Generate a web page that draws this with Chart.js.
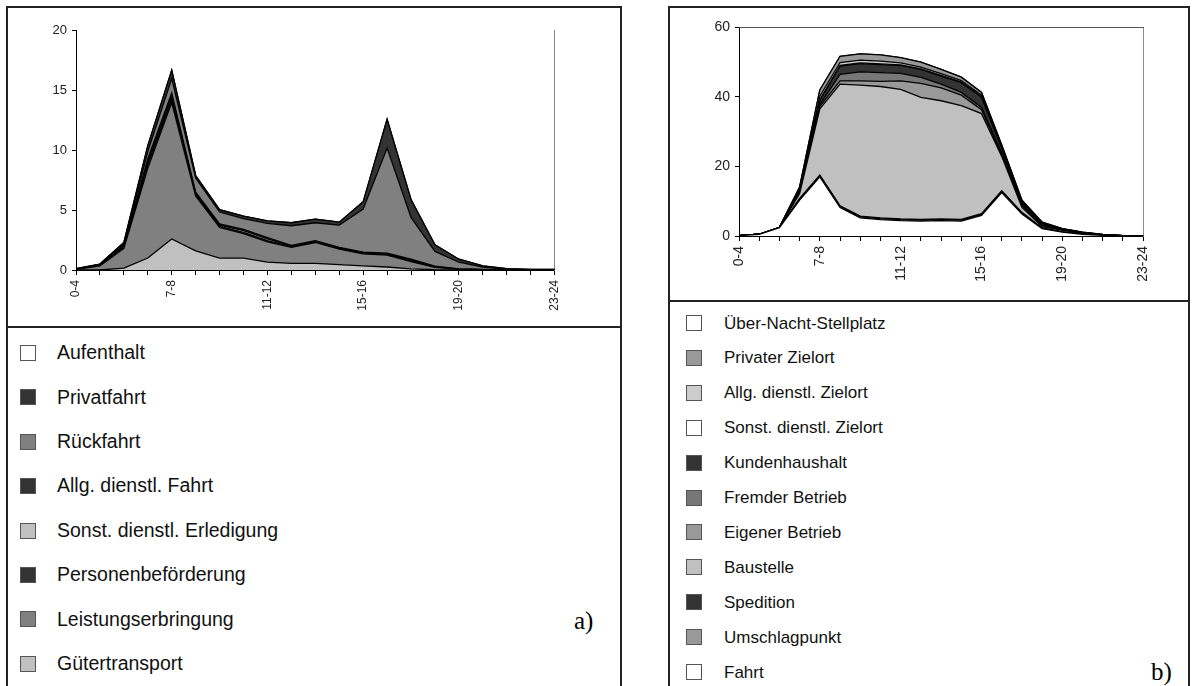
<!DOCTYPE html>
<html>
<head>
<meta charset="utf-8">
<script src="https://cdn.jsdelivr.net/npm/chart.js@4.4.0/dist/chart.umd.min.js"></script>
<style>
  body { margin: 0; width: 1196px; height: 686px; overflow: hidden; background: #fff; position: relative;
         font-family: "Liberation Sans", Arial, sans-serif; }
  .panel { position: absolute; border: 2px solid #222; border-bottom: none; }
  .divider { position: absolute; height: 2px; background: #222; }
  .wrap { position: absolute; }
  .box { position: absolute; width: 14px; height: 14px; border: 1px solid #555; }
  .lbl { position: absolute; color: #111; white-space: nowrap; line-height: 1; }
  .tag { position: absolute; font-family: "Liberation Serif", "Times New Roman", serif; font-size: 25px; line-height: 1; color: #000; }
</style>
</head>
<body>
<div class="panel" style="left:6px;top:6px;width:612px;height:700px"></div>
<div class="divider" style="left:6px;top:326px;width:616px"></div>
<div class="panel" style="left:668px;top:6px;width:518px;height:700px"></div>
<div class="divider" style="left:668px;top:300px;width:522px"></div>

<div class="wrap" style="left:36px;top:18px"><canvas id="chartA" width="538" height="312"></canvas></div>
<div class="wrap" style="left:699px;top:14px"><canvas id="chartB" width="466" height="282"></canvas></div>

<div id="legendA"></div>
<div id="legendB"></div>
<div class="tag" style="left:574px;top:608px">a)</div>
<div class="tag" style="left:1151px;top:659px">b)</div>

<script>
/* ---------- DATA ---------- */
const hours = ['0-4', '4-5', '5-6', '6-7', '7-8', '8-9', '9-10', '10-11', '11-12', '12-13', '13-14',
  '14-15', '15-16', '16-17', '17-18', '18-19', '19-20', '20-21', '21-22', '22-23', '23-24'];

// a) trip purposes (stack bottom first)
const guetertransport     = [0, 0, 0.15, 1.0, 2.6, 1.6, 1.0, 1.0, 0.65, 0.55, 0.55, 0.45, 0.35, 0.25, 0.1, 0.02, 0, 0, 0, 0, 0];
const leistungserbringung = [0.05, 0.35, 1.65, 7.5, 11.4, 4.6, 2.55, 2.05, 1.7, 1.35, 1.75, 1.3, 1.0, 1.0, 0.6, 0.2, 0.05, 0.02, 0.01, 0, 0];
const personenbefoerderung = [0, 0, 0.1, 0.3, 0.3, 0.1, 0.1, 0.1, 0.1, 0.05, 0.05, 0.05, 0.05, 0.05, 0.05, 0.03, 0.02, 0.01, 0, 0, 0];
const sonstErledigung     = [0, 0, 0.05, 0.2, 0.2, 0.1, 0.1, 0.15, 0.15, 0.05, 0.05, 0.05, 0.05, 0.05, 0.05, 0.02, 0.01, 0, 0, 0, 0];
const allgFahrt           = [0, 0.05, 0.1, 0.3, 0.3, 0.1, 0.1, 0.1, 0.1, 0.05, 0.05, 0.05, 0.05, 0.05, 0.1, 0.05, 0.02, 0.01, 0, 0, 0];
const rueckfahrt          = [0.02, 0.05, 0.1, 0.6, 1.2, 1.2, 1.0, 0.9, 1.2, 1.65, 1.5, 1.85, 3.6, 8.8, 3.5, 1.23, 0.55, 0.2, 0.05, 0.02, 0.02];
const privatfahrt         = [0.05, 0.05, 0.15, 0.5, 0.7, 0.2, 0.2, 0.2, 0.2, 0.25, 0.3, 0.25, 0.6, 2.4, 1.5, 0.55, 0.25, 0.1, 0.05, 0.03, 0.03];
const aufenthalt          = [0, 0, 0, 0, 0, 0, 0, 0, 0, 0, 0, 0, 0, 0, 0, 0, 0, 0, 0, 0, 0];

// b) locations (stack bottom first)
const fahrt          = [0.1, 0.5, 2.4, 10.3, 17.0, 8.2, 5.2, 4.7, 4.4, 4.25, 4.4, 4.3, 5.9, 12.5, 6.3, 2.1, 1.1, 0.5, 0.2, 0.05, 0.02];
const umschlagpunkt  = [0, 0, 0, 0.3, 0.3, 0.3, 0.3, 0.3, 0.3, 0.3, 0.3, 0.3, 0.3, 0.3, 0.3, 0.1, 0.05, 0.02, 0.01, 0, 0];
const spedition      = [0, 0, 0, 0.2, 0.2, 0.2, 0.2, 0.2, 0.2, 0.2, 0.2, 0.2, 0.2, 0.2, 0.2, 0.1, 0.05, 0.02, 0.01, 0, 0];
const baustelle      = [0, 0, 0, 1.4, 19.1, 35.0, 37.7, 37.8, 37.3, 35.15, 34.0, 32.7, 28.8, 9.9, 1.4, 0.4, 0.4, 0.26, 0.08, 0.02, 0];
const eigenerBetrieb = [0, 0, 0, 0.4, 0.7, 0.9, 1.2, 1.5, 2.4, 4.0, 3.7, 3.0, 1.1, 0.5, 0.5, 0.3, 0.1, 0.05, 0.03, 0, 0];
const fremderBetrieb = [0, 0, 0, 0.4, 0.5, 1.9, 2.6, 2.5, 2.2, 1.7, 1.1, 0.8, 0.7, 0.4, 0.3, 0.2, 0.1, 0.05, 0.02, 0, 0];
const kundenhaushalt = [0, 0, 0, 0.5, 1.2, 2.4, 2.4, 2.3, 2.2, 2.3, 2.3, 2.8, 2.9, 1.4, 0.6, 0.4, 0.15, 0.1, 0.03, 0, 0];
const sonstZielort   = [0, 0, 0, 0.1, 0.2, 0.2, 0.2, 0.2, 0.2, 0.2, 0.2, 0.2, 0.2, 0.2, 0.1, 0.05, 0.02, 0, 0, 0, 0];
const allgZielort    = [0, 0, 0, 0.2, 1.0, 0.8, 0.8, 0.8, 0.6, 0.5, 0.5, 0.4, 0.4, 0.3, 0.2, 0.15, 0.08, 0.05, 0.02, 0, 0];
const privaterZielort = [0, 0, 0.1, 0.3, 1.8, 1.8, 1.8, 1.8, 1.5, 1.4, 1.2, 1.0, 0.8, 0.5, 0.4, 0.2, 0.05, 0.05, 0.03, 0.02, 0.01];
const ueberNacht     = [0, 0, 0, 0, 0, 0, 0, 0, 0, 0, 0, 0, 0, 0, 0, 0, 0, 0, 0, 0, 0];

const ticksA = [0, 5, 10, 15, 20];
const ticksB = [0, 20, 40, 60];

/* ---------- COLOURS ---------- */
const WHITE = '#ffffff', DARK = '#333333', MID = '#808080', MID2 = '#999999', GREY = '#777777', LIGHT = '#c0c0c0', LIGHT2 = '#cccccc';

/* ---------- HELPERS ---------- */
function area(label, data, color, first) {
  return {
    label, data,
    backgroundColor: color,
    borderColor: '#000',
    borderWidth: 1.3,
    pointRadius: 0,
    tension: 0,
    fill: first ? 'origin' : '-1'
  };
}

function chartOptions(maxY, tickVals, xFont, yFont, withTop) {
  const scales = {
    x: {
      type: 'category',
      offset: false,
      border: { display: true, color: '#000', width: 1 },
      grid: { display: true, drawOnChartArea: false, drawTicks: true, tickLength: 5, color: '#000' },
      ticks: {
        autoSkip: false, maxRotation: 90, minRotation: 90, padding: 5,
        color: '#222', font: { family: 'Liberation Sans', size: xFont },
        callback: function (val, idx) { return idx % 4 === 0 ? this.getLabelForValue(val) : ''; }
      },
      afterFit: s => { s.height = 60; }
    },
    y: {
      stacked: true, min: 0, max: maxY,
      afterBuildTicks: s => { s.ticks = tickVals.map(v => ({ value: v })); },
      border: { display: true, color: '#000', width: 1 },
      grid: { display: true, drawOnChartArea: false, drawTicks: true, tickLength: 4, color: '#000' },
      ticks: { padding: 5, color: '#222', font: { family: 'Liberation Sans', size: yFont } },
      afterFit: s => { s.width = 40; }
    },
    y2: {
      position: 'right',
      border: { display: true, color: '#8a8a8a', width: 1 },
      grid: { display: false },
      ticks: { display: false },
      afterFit: s => { s.width = 0; }
    }
  };
  if (withTop) {
    scales.x2 = {
      type: 'category', position: 'top',
      border: { display: true, color: '#555', width: 1 },
      grid: { display: false },
      ticks: { display: false },
      afterFit: s => { s.height = 0; }
    };
  }
  return {
    responsive: false,
    animation: false,
    events: [],
    layout: { padding: { top: 10, right: 10, left: 0, bottom: 0 } },
    plugins: { legend: { display: false }, tooltip: { enabled: false } },
    scales
  };
}

function buildLegend(chart, holder, opts) {
  const items = chart.data.datasets.slice().reverse();
  items.forEach((ds, k) => {
    const cy = opts.y0 + k * opts.step;
    const box = document.createElement('div');
    box.className = 'box';
    box.style.left = opts.boxX + 'px';
    box.style.top = (cy - 8) + 'px';
    box.style.background = ds.backgroundColor;
    holder.appendChild(box);
    const t = document.createElement('div');
    t.className = 'lbl';
    t.textContent = ds.label;
    t.style.left = opts.textX + 'px';
    t.style.top = (cy - opts.font * 0.5) + 'px';
    t.style.fontSize = opts.font + 'px';
    holder.appendChild(t);
  });
}

/* ---------- CHART A ---------- */
const chartA = new Chart(document.getElementById('chartA'), {
  type: 'line',
  data: {
    labels: hours,
    datasets: [
      area('Gütertransport', guetertransport, LIGHT, true),
      area('Leistungserbringung', leistungserbringung, MID),
      area('Personenbeförderung', personenbefoerderung, DARK),
      area('Sonst. dienstl. Erledigung', sonstErledigung, LIGHT),
      area('Allg. dienstl. Fahrt', allgFahrt, DARK),
      area('Rückfahrt', rueckfahrt, MID),
      area('Privatfahrt', privatfahrt, DARK),
      area('Aufenthalt', aufenthalt, WHITE)
    ]
  },
  options: chartOptions(20, ticksA, 12, 13, false)
});

/* ---------- CHART B ---------- */
const chartB = new Chart(document.getElementById('chartB'), {
  type: 'line',
  data: {
    labels: hours,
    datasets: [
      area('Fahrt', fahrt, WHITE, true),
      area('Umschlagpunkt', umschlagpunkt, MID2),
      area('Spedition', spedition, DARK),
      area('Baustelle', baustelle, LIGHT),
      area('Eigener Betrieb', eigenerBetrieb, MID2),
      area('Fremder Betrieb', fremderBetrieb, GREY),
      area('Kundenhaushalt', kundenhaushalt, DARK),
      area('Sonst. dienstl. Zielort', sonstZielort, WHITE),
      area('Allg. dienstl. Zielort', allgZielort, LIGHT2),
      area('Privater Zielort', privaterZielort, MID2),
      area('Über-Nacht-Stellplatz', ueberNacht, WHITE)
    ]
  },
  options: chartOptions(60, ticksB, 14, 14, true)
});

buildLegend(chartA, document.getElementById('legendA'), { y0: 353, step: 44.4, boxX: 20, textX: 57, font: 19.5 });
buildLegend(chartB, document.getElementById('legendB'), { y0: 323, step: 34.9, boxX: 686, textX: 724, font: 17 });
</script>
</body>
</html>
